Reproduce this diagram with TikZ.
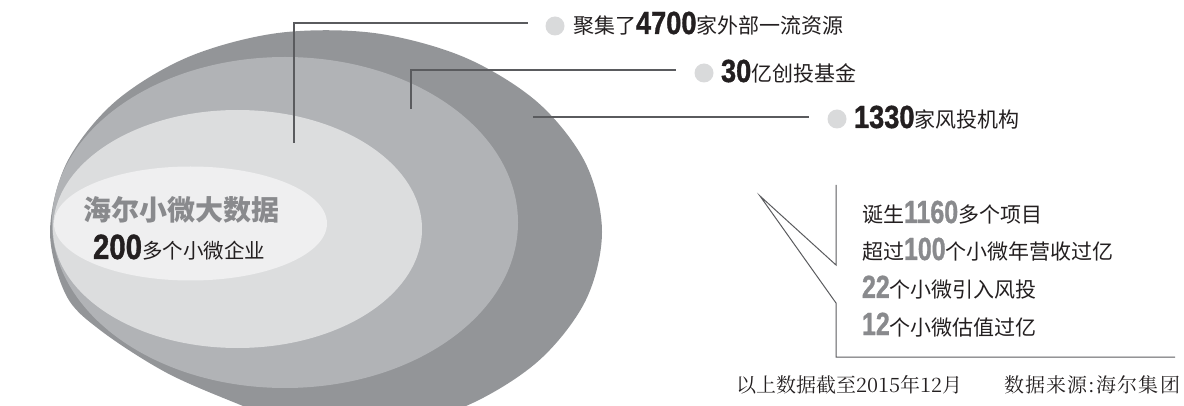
\documentclass[tikz,border=0pt]{standalone}
\usepackage{fontspec}
\usepackage{graphicx}
\newfontfamily\cjk{Noto Sans CJK SC}
\newfontfamily\numf{Liberation Sans}[BoldFeatures={FakeBold=1.2}]
\IfFontExistsTF{Noto Serif CJK SC}{\newfontfamily\songf{Noto Serif CJK SC}}{\newfontfamily\songf{Noto Sans CJK SC}}
\definecolor{cA}{HTML}{939598}
\definecolor{cB}{HTML}{B1B3B6}
\definecolor{cC}{HTML}{DCDDDE}
\definecolor{cD}{HTML}{EFEFF0}
\definecolor{bul}{HTML}{D9DADB}
\definecolor{lnc}{HTML}{5A5B5E}
\definecolor{dk}{HTML}{231F20}
\definecolor{gtxt}{HTML}{898A8D}
\newcommand\topnum[1]{\scalebox{0.85}[1]{\numf\bfseries\fontsize{32}{32}\selectfont #1}}
\newcommand\midnum[1]{\scalebox{0.84}[1]{\numf\bfseries\fontsize{35}{35}\selectfont #1}}
\newcommand\boxnum[1]{\scalebox{0.78}[1]{\numf\bfseries\fontsize{32}{32}\selectfont #1}}
\newcommand\cjkt{\cjk\fontsize{21}{21}\selectfont}
\tikzset{
  txt/.style={anchor=base west, inner sep=0pt, outer sep=0pt, text=dk},
  dot/.style={circle, fill=bul, minimum size=19pt, inner sep=0pt},
  lead/.style={draw=lnc, line width=1.2pt},
  callout/.style={draw=lnc, line width=1pt, line join=miter},
}
\begin{document}
\begin{tikzpicture}[x=1pt,y=-1pt]
\useasboundingbox (0,0) rectangle (1184,406);
\begin{scope}
\clip (0,0) rectangle (1184,406);
\fill[cA] plot[smooth cycle, tension=0.55] coordinates {(50,232) (66.6,162.9) (114.6,102.1) (188,57.1) (278,33) (374,33) (464,57.1) (537.4,102.1) (585.4,162.9) (602,232) (585.4,301) (537.4,361.9) (464,406.9) (374,431) (300,428) (243,406) (167,373) (100,330) (66,295)};
\fill[cB] (285,222.5) ellipse [x radius=233pt, y radius=165.5pt];
\fill[cC] (237.5,229) ellipse [x radius=184.5pt, y radius=119pt];
\fill[cD] (190.5,223.5) ellipse [x radius=136.5pt, y radius=57pt];
\end{scope}

% bullets and texts
\node[dot] (b1) at (555,26) {};
\node[dot] (b2) at (704,73) {};
\node[dot] (b3) at (837,119) {};
\node[txt] (t1) at (573,34) {\cjkt 聚集了\topnum{4700}家外部一流资源};
\node[txt] (t2) at (721,82) {\topnum{30}\cjkt 亿创投基金};
\node[txt] (t3) at (854,128) {\topnum{1330}\cjkt 家风投机构};

% leader lines
\coordinate (s1) at (294,143);
\coordinate (e1) at (528,23);
\coordinate (s2) at (411,109);
\coordinate (e2) at (676,70);
\coordinate (s3) at (533,117);
\coordinate (e3) at (809,117);
\draw[lead] (s1) |- (e1);
\draw[lead] (s2) |- (e2);
\draw[lead] (s3) -- (e3);

% center texts
\node[txt, text=gtxt] (title) at (83,221) {\cjk\bfseries\fontsize{28}{28}\selectfont 海尔小微大数据};
\node[txt] (sub) at (93,259) {\midnum{200}\cjk\fontsize{20.5}{20.5}\selectfont 多个小微企业};

% callout box
\coordinate (k1) at (836,185);
\coordinate (k2) at (836,265);
\coordinate (tip) at (760,196);
\coordinate (k3) at (836,303);
\coordinate (k4) at (836,357);
\coordinate (k5) at (1175,357);
\draw[callout] (k1) -- (k2) -- (tip) -- (k3) -- (k4) -- (k5);

\node[txt] (l1) at (862,223) {\cjkt 诞生{\color{gtxt}\boxnum{1160}}多个项目};
\node[txt] (l2) at (862,260) {\cjkt 超过{\color{gtxt}\boxnum{100}}个小微年营收过亿};
\node[txt] (l3) at (862,298) {{\color{gtxt}\boxnum{22}}\cjkt 个小微引入风投};
\node[txt] (l4) at (862,335) {{\color{gtxt}\boxnum{12}}\cjkt 个小微估值过亿};

% footer
\node[txt] (f1) at (736,392) {\songf\fontsize{20}{20}\selectfont 以上数据截至2015年12月};
\node[txt] (f2) at (1004,392) {\songf\fontsize{20}{20}\selectfont\addfontfeature{LetterSpace=6} 数据来源:海尔集团};
\end{tikzpicture}
\end{document}
